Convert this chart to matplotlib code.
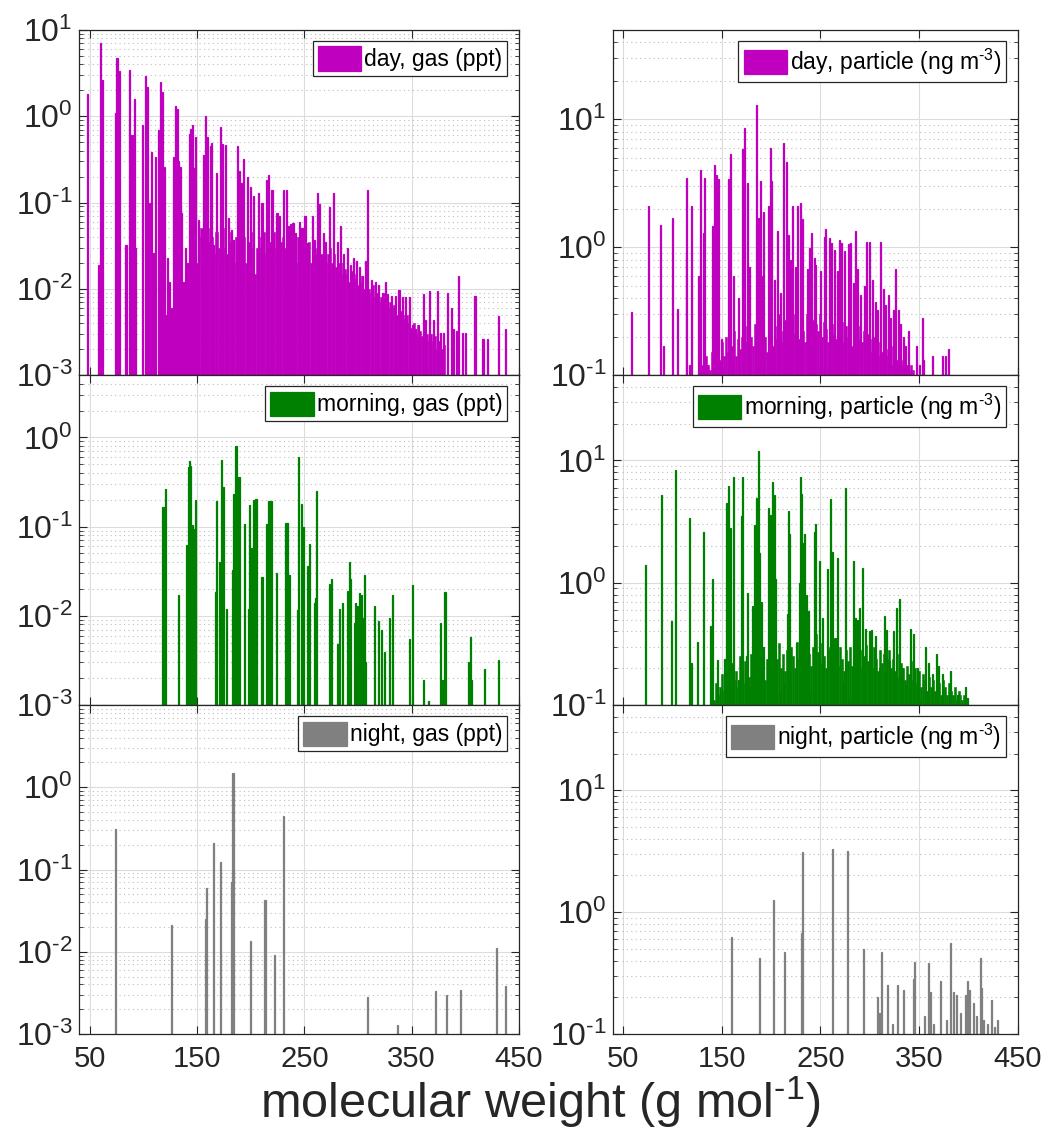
import matplotlib
matplotlib.use('Agg')
import matplotlib.pyplot as plt
from matplotlib.ticker import LogLocator, NullFormatter, FixedLocator, FuncFormatter
import math

plt.rcParams['font.family'] = ['Liberation Sans', 'DejaVu Sans']
plt.rcParams['mathtext.fontset'] = 'custom'
plt.rcParams['mathtext.rm'] = 'Liberation Sans'
plt.rcParams['mathtext.it'] = 'Liberation Sans:italic'
plt.rcParams['mathtext.bf'] = 'Liberation Sans:bold'
plt.rcParams['axes.unicode_minus'] = False

# ---- day, gas (ppt) ----
day_gas_mw = [47.5, 57.8, 59.6, 61.9, 73.4, 75.2, 77.1, 83.6, 87.1, 89.2, 91.8, 92.7, 99.2, 101.7,
              103.9, 106, 107, 108, 109.2, 111, 113.9, 115.7, 118, 119.5, 121, 122.6, 124.5, 126.3,
              127.9, 129, 130.1, 131.6, 132.9, 134.1, 135.7, 137.5, 139.3, 140.8, 142.5, 144.1,
              145.3, 146.5, 147.5, 148.8, 151.2, 155.9, 157.8, 160, 162.2, 163.7, 165.2, 168.4,
              172.1, 174, 176.2, 179.3, 181.8, 184, 187.4, 189.6, 191.1, 193.3, 197, 199.5, 202.6,
              207.3, 210.5, 214.5, 216.6, 219.8, 224.5, 226.9, 230.7, 233.2, 235.3, 236.9, 238.5,
              239.4, 241.6, 245.6, 247.8, 250.6, 253, 257.2, 259.6, 262.4, 264.3, 267.5, 269.6,
              273.6, 277.4, 280.6, 283.6, 286.7, 289.9, 293, 296.1, 298.6, 301.7, 303.9, 307,
              309.2, 312.3, 316.4, 319.5, 322.6, 325.7, 328, 331.3, 335, 338.3, 341.3, 344.4,
              348.4, 350.6, 353.7, 356.8, 360.9, 363.1, 367.1, 370.8, 374.6, 377.1, 380.2, 383.4,
              387.1, 389.5, 391.8, 394.2, 397.4, 400.5, 409.2, 416.7, 421.3, 431.1, 437.9]
day_gas_val = [1.8, 0.019, 7.0, 2.6, 1.08, 4.7, 3.35, 0.032, 3.4, 0.61, 1.6, 0.03, 0.8, 2.9,
               2.2, 0.1, 0.39, 0.012, 0.026, 0.34, 0.69, 2.5, 1.9, 0.26, 0.005, 0.023, 0.012, 0.006,
               0.34, 0.018, 1.3, 1.2, 0.3, 0.26, 0.076, 0.012, 0.03, 0.02, 0.63, 0.72,
               0.79, 0.25, 0.015, 0.57, 0.063, 0.36, 1.0, 0.57, 0.45, 0.49, 0.032, 0.22,
               0.76, 0.48, 0.46, 0.066, 0.048, 0.037, 0.45, 0.23, 0.17, 0.32, 0.2, 0.15, 0.12,
               0.13, 0.1, 0.18, 0.21, 0.14, 0.076, 0.07, 0.14, 0.14, 0.053, 0.056, 0.044,
               0.058, 0.044, 0.06, 0.05, 0.07, 0.034, 0.07, 0.037, 0.13, 0.095, 0.044, 0.035,
               0.089, 0.13, 0.035, 0.053, 0.025, 0.03, 0.019, 0.023, 0.021, 0.018, 0.014, 0.021,
               0.14, 0.0126, 0.012, 0.011, 0.0089, 0.012, 0.0087, 0.0083, 0.0083, 0.0098, 0.008, 0.008,
               0.008, 0.0038, 0.0034, 0.0038, 0.0087, 0.0044, 0.0093, 0.0044, 0.0093, 0.0031, 0.0031, 0.0089,
               0.006, 0.0034, 0.0032, 0.014, 0.0031, 0.0031, 0.0083, 0.0026, 0.0026, 0.0048, 0.0034]
# many small compounds filling the 150-380 range (2 g/mol bins)
day_gas_fill_mw = list(range(150, 382, 2))
day_gas_fill_val = [0.02, 0.04, 0.05, 0.03, 0.045, 0.05, 0.035, 0.04, 0.025, 0.045,
                    0.03, 0.04, 0.05, 0.03, 0.025, 0.045, 0.035, 0.02, 0.04, 0.03,
                    0.045, 0.03, 0.04, 0.02, 0.035, 0.045, 0.03, 0.015, 0.03, 0.04,
                    0.03, 0.045, 0.025, 0.04, 0.035, 0.02, 0.045, 0.03, 0.04, 0.035,
                    0.04, 0.03, 0.025, 0.04, 0.035, 0.03, 0.02, 0.04, 0.035, 0.03,
                    0.03, 0.025, 0.035, 0.02, 0.03, 0.025, 0.03, 0.02, 0.025, 0.03,
                    0.02, 0.025, 0.03, 0.02, 0.025, 0.018, 0.02, 0.015, 0.02, 0.017,
                    0.015, 0.012, 0.016, 0.013, 0.015, 0.011, 0.012, 0.014, 0.01, 0.012,
                    0.01, 0.009, 0.011, 0.008, 0.009, 0.007, 0.008, 0.009, 0.007, 0.006,
                    0.007, 0.006, 0.0065, 0.005, 0.006, 0.0055, 0.005, 0.0045, 0.005, 0.004,
                    0.0035, 0.004, 0.003, 0.0038, 0.0032, 0.0028, 0.0035, 0.003, 0.0025, 0.003,
                    0.0025, 0.0028, 0.002, 0.0025, 0.002, 0.0022]

# ---- day, particle (ng m-3) ----
day_part_mw = [58.6, 75.8, 87.5, 90.9, 100.3, 105, 113.7, 114.7, 117.2, 119.5, 126.3, 128.9, 131,
               132, 135.4, 141, 143, 144.4, 147.1, 149.8, 157.2, 158.9, 161.6, 167, 171, 173, 176.4,
               178.1, 185.2, 187.6, 189, 190.6, 192.5, 197.3, 199.3, 200.6, 203.3, 206.7, 209.7,
               212.4, 215.2, 217.2, 219.5, 221.2, 225, 226.9, 229.3, 231.9, 237, 239.4, 241.4,
               243.7, 244.7, 250.5, 253.8, 255.5, 258.9, 261.6, 263.9, 267.2, 269.7, 271.7, 274,
               278.4, 280.8, 283.1, 285.2, 287.5, 290.9, 294.2, 296.9, 299.3, 302.6, 305.4, 307.7,
               311.4, 313.7, 316.2, 318.8, 321.2, 323.9, 326.3, 328.9, 331.3, 334.7, 336.4, 339.1,
               347.5, 350.5, 353.1, 354.9, 363.2, 373.3, 376.7, 379.4]
day_part_val = [0.31, 2.1, 1.5, 0.17, 1.7, 0.33, 0.88, 3.5, 0.12, 2.1, 0.6, 4.0, 1.3,
                3.5, 0.12, 1.47, 4.4, 3.7, 3.4, 0.19, 3.4, 5.4, 0.6, 0.4, 5.9, 8.5, 3.2,
                0.7, 12.9, 1.7, 3.3, 0.6, 1.9, 2.1, 6.0, 3.3, 0.55, 1.35, 0.44,
                6.5, 4.6, 1.25, 0.8, 2.1, 0.7, 2.1, 2.2, 1.65, 0.68, 0.98, 1.3,
                0.82, 0.72, 0.65, 1.2, 1.38, 1.17, 1.07, 0.95, 0.65, 1.14, 1.07, 0.93,
                1.05, 1.07, 0.52, 1.35, 0.68, 0.42, 0.5, 1.1, 1.1, 0.55, 0.37, 0.32,
                1.1, 0.47, 0.35, 0.42, 0.28, 0.32, 0.67, 0.32, 0.25, 0.2, 0.17, 0.22,
                0.17, 0.12, 0.28, 0.13, 0.14, 0.14, 0.14, 0.16]
day_part_fill_mw = list(range(130, 346, 2))
day_part_fill_val = [0.12, 0.11, 0.14, 0.12, 0.11, 0.15, 0.13, 0.12, 0.16, 0.13,
                     0.18, 0.14, 0.2, 0.15, 0.12, 0.17, 0.22, 0.14, 0.19, 0.16,
                     0.2, 0.15, 0.24, 0.18, 0.14, 0.2, 0.17, 0.25, 0.16, 0.21,
                     0.18, 0.26, 0.2, 0.15, 0.22, 0.28, 0.17, 0.24, 0.19, 0.3,
                     0.22, 0.18, 0.27, 0.2, 0.25, 0.16, 0.3, 0.21, 0.26, 0.19,
                     0.28, 0.22, 0.18, 0.3, 0.24, 0.2, 0.27, 0.17, 0.25, 0.22,
                     0.3, 0.2, 0.26, 0.23, 0.18, 0.28, 0.21, 0.25, 0.19, 0.27,
                     0.22, 0.26, 0.18, 0.24, 0.2, 0.28, 0.17, 0.23, 0.21, 0.19,
                     0.24, 0.18, 0.22, 0.16, 0.21, 0.19, 0.15, 0.2, 0.17, 0.14,
                     0.18, 0.15, 0.2, 0.14, 0.16, 0.13, 0.17, 0.12, 0.15, 0.13,
                     0.14, 0.12, 0.13, 0.11, 0.12, 0.11, 0.12, 0.11]

# ---- morning, gas (ppt) ----
morn_gas_mw = [118, 119.2, 120.4, 132.2, 140.4, 141.6, 142.8, 144.1, 145.3, 146.5, 148.8, 166.8,
               167.8, 170.9, 173.1, 174.6, 177.1, 183, 184.3, 186.2, 187.4, 189, 193.9, 198, 198.6,
               200.5, 202.6, 204.9, 210.5, 215.1, 217, 219.2, 223.8, 232.9, 234.1, 235.7, 243.2,
               244.7, 246.9, 248.8, 252.5, 254.7, 259.3, 260.3, 261.2, 273.7, 275.2, 281.1, 283,
               285.2, 289.9, 291.1, 292.1, 293, 296.7, 297.7, 299.2, 301.7, 303.3, 304.9, 306.4,
               307.3, 315.1, 319.5, 321.7, 325.1, 329.7, 332, 348.4, 350.6, 361.5, 365.9, 377.1,
               379.3, 381.2, 402.8, 404.1, 405, 405.9, 418, 431.1]
morn_gas_val = [0.165, 0.165, 0.265, 0.017, 0.062, 0.47, 0.55, 0.48, 0.103, 0.095, 0.196, 0.0185,
                0.195, 0.04, 0.56, 0.276, 0.012, 0.033, 0.23, 0.79, 0.025, 0.36, 0.108, 0.012, 0.175,
                0.058, 0.2, 0.205, 0.027, 0.108, 0.195, 0.195, 0.03, 0.11, 0.11, 0.029, 0.0115,
                0.61, 0.18, 0.1, 0.036, 0.063, 0.014, 0.016, 0.25, 0.023, 0.026, 0.0048, 0.012,
                0.014, 0.019, 0.017, 0.04, 0.026, 0.0083, 0.014, 0.013, 0.018, 0.017, 0.0095, 0.029,
                0.003, 0.013, 0.0087, 0.007, 0.0039, 0.0095, 0.017, 0.0055, 0.022, 0.0019, 0.0011, 0.0083,
                0.0019, 0.0185, 0.003, 0.0026, 0.0058, 0.0019, 0.0025, 0.0032]

# ---- morning, particle (ng m-3) ----
morn_part_mw = [73, 88.9, 99.3, 103, 117.2, 118.2, 119.5, 125.6, 131.6, 138.7, 141, 145.8, 153.1,
                155.2, 156.6, 158.6, 161.6, 167.3, 170, 171.3, 174.7, 176.1, 179.4, 181.4, 182.8,
                185.2, 187.5, 188.5, 189.9, 192.2, 197, 199.6, 201, 203, 204, 208.1, 212.4, 216.2,
                217.5, 218.8, 225.6, 228.3, 229.3, 231.3, 232.6, 233.6, 236, 237, 238, 240.4, 243.7,
                245.4, 248.8, 252.1, 257.2, 259.9, 262.3, 265, 267.7, 272.3, 275.8, 279.1, 283.1,
                285.9, 287.5, 289.9, 292.6, 296, 299.3, 302.1, 306.1, 309.5, 314.5, 316.8, 319.6,
                323.6, 327, 329.8, 333.1, 337.1, 341.6, 343.9, 348.2, 351.7, 356.7, 359.4, 364.1,
                367.5, 369.5, 373.6, 382.1, 388.8, 396.6, 398.9]
morn_part_val = [1.4, 5.2, 0.49, 8.3, 3.4, 0.21, 0.22, 0.33, 2.6, 0.44, 1.08, 0.235, 0.24,
                 4.5, 6.2, 2.8, 7.3, 0.16, 3.5, 7.3, 0.25, 0.83, 0.14, 0.64, 2.95,
                 4.9, 12.0, 1.74, 0.69, 0.3, 4.1, 3.6, 6.7, 5.2, 1.08, 0.13, 0.15, 0.56,
                 3.85, 2.5, 0.32, 0.99, 7.3, 5.3, 2.1, 2.5, 0.8, 0.57, 0.59, 0.125, 2.6,
                 3.0, 1.5, 0.51, 1.3, 4.8, 1.8, 0.35, 1.58, 0.15, 6.0, 0.11, 1.5,
                 0.51, 0.5, 0.62, 1.33, 0.42, 0.4, 0.41, 0.37, 0.2, 0.53, 0.41, 0.23,
                 0.4, 0.62, 0.74, 0.2, 0.145, 0.42, 0.38, 0.2, 0.11, 0.3, 0.22, 0.18,
                 0.26, 0.21, 0.18, 0.19, 0.12, 0.14, 0.115]
morn_part_fill_mw = list(range(140, 400, 2))
morn_part_fill_val = [0.13, 0.11, 0.15, 0.12, 0.14, 0.18, 0.13, 0.2, 0.15, 0.12,
                      0.22, 0.16, 0.19, 0.14, 0.25, 0.18, 0.15, 0.23, 0.2, 0.17,
                      0.26, 0.19, 0.3, 0.17, 0.22, 0.28, 0.2, 0.16, 0.24, 0.3,
                      0.21, 0.27, 0.18, 0.24, 0.32, 0.2, 0.26, 0.19, 0.28, 0.22,
                      0.3, 0.25, 0.2, 0.33, 0.24, 0.19, 0.28, 0.22, 0.35, 0.26,
                      0.21, 0.3, 0.24, 0.38, 0.27, 0.22, 0.32, 0.25, 0.2, 0.3,
                      0.28, 0.22, 0.35, 0.26, 0.21, 0.3, 0.24, 0.19, 0.28, 0.23,
                      0.3, 0.21, 0.26, 0.33, 0.22, 0.28, 0.2, 0.25, 0.31, 0.23,
                      0.27, 0.2, 0.3, 0.24, 0.19, 0.28, 0.22, 0.26, 0.18, 0.24,
                      0.28, 0.2, 0.24, 0.19, 0.26, 0.17, 0.22, 0.2, 0.16, 0.21,
                      0.18, 0.23, 0.16, 0.2, 0.15, 0.19, 0.14, 0.18, 0.16, 0.13,
                      0.17, 0.14, 0.16, 0.13, 0.18, 0.15, 0.12, 0.16, 0.14, 0.12,
                      0.15, 0.13, 0.12, 0.14, 0.11, 0.13, 0.12, 0.11, 0.12, 0.11]

# ---- night, gas (ppt) ----
night_gas_mw = [73.4, 125.7, 158.1, 159, 165.6, 172.1, 182.1, 183.4, 199.8, 213.3, 222, 230.7,
                308.6, 337.2, 372.1, 382.7, 395.8, 429.4, 438.1]
night_gas_val = [0.31, 0.021, 0.025, 0.06, 0.21, 0.123, 0.07, 1.5, 0.0135, 0.042, 0.0091, 0.45,
                 0.0028, 0.0013, 0.0033, 0.003, 0.0034, 0.011, 0.0038]

# ---- night, particle (ng m-3) ----
night_part_mw = [160.2, 188.2, 202, 213.7, 231.3, 232.3, 262.2, 277.8, 293.9, 308, 309.5, 311.7,
                 317.8, 323, 328.3, 334, 344.1, 345.8, 356, 359.9, 361.6, 365, 372, 378, 382.1,
                 385.1, 387.5, 392, 397, 399.6, 401.3, 405, 408, 412.1, 413.7, 415.5, 419, 423.5,
                 426, 429.5]
night_part_val = [0.62, 0.42, 1.25, 0.47, 0.68, 3.1, 3.3, 3.15, 0.5, 0.2, 0.15, 0.475,
                  0.25, 0.12, 0.25, 0.23, 0.28, 0.39, 0.14, 0.38, 0.22, 0.12, 0.27, 0.13, 0.56,
                  0.22, 0.21, 0.15, 0.21, 0.27, 0.23, 0.18, 0.14, 0.42, 0.24, 0.13, 0.12, 0.19,
                  0.115, 0.13]

magenta = '#bf00bf'
green = '#008000'
gray = '#808080'

fig = plt.figure(figsize=(10.47, 11.39), dpi=100)
W, H = 1047.0, 1139.0


def pow10(v, pos):
    e = int(round(math.log10(v)))
    if e < 0:
        return r'$10^{\text{-}%d}$' % (-e)
    return r'$10^{%d}$' % e


def panel(x0, x1, y0, y1, mw, val, fill_mw, fill_val, color, label, ylim, yticks, bottom_row):
    ax = fig.add_axes([x0 / W, 1 - y1 / H, (x1 - x0) / W, (y1 - y0) / H])
    ax.set_yscale('log')
    if fill_mw is not None:
        ax.bar(fill_mw, fill_val, width=2.0, color=color, edgecolor=color, linewidth=0.4)
    ax.bar(mw, val, width=1.0, color=color, edgecolor=color, linewidth=0.9, label=label)
    ax.set_xlim(40, 450)
    ax.set_ylim(*ylim)
    ax.set_xticks([50, 150, 250, 350, 450])
    ax.yaxis.set_major_locator(FixedLocator(yticks))
    ax.yaxis.set_major_formatter(FuncFormatter(pow10))
    ax.yaxis.set_minor_locator(LogLocator(base=10, subs=range(2, 10), numticks=20))
    ax.yaxis.set_minor_formatter(NullFormatter())
    ax.set_axisbelow(True)
    ax.grid(True, which='major', color='#dcdcdc', linewidth=0.8)
    ax.grid(True, which='minor', axis='y', color='#bdbdbd', linestyle=(0, (1, 3)), linewidth=0.8)
    ax.tick_params(which='both', direction='in', top=True, right=True, colors='#262626')
    ax.tick_params(which='major', length=6, width=0.8, labelsize=23, pad=5)
    ax.tick_params(which='minor', length=3, width=0.6)
    ax.tick_params(axis='x', labelsize=21, pad=8)
    if not bottom_row:
        ax.tick_params(axis='x', labelbottom=False)
    for s in ax.spines.values():
        s.set_color('#262626')
        s.set_linewidth(0.9)
    leg = ax.legend(loc='upper right', fontsize=16.5, handlelength=1.9, handleheight=1.25,
                    handletextpad=0.12, borderpad=0.22, borderaxespad=0.5,
                    fancybox=False, framealpha=1)
    leg.get_frame().set_edgecolor('#262626')
    leg.get_frame().set_linewidth(0.9)
    return ax


lx0, lx1 = 79.3, 518.7
rx0, rx1 = 613.3, 1017.7
rows = [(30, 375), (375, 705), (705, 1034)]

panel(lx0, lx1, rows[0][0], rows[0][1], day_gas_mw, day_gas_val, day_gas_fill_mw, day_gas_fill_val,
      magenta, 'day, gas (ppt)', (1e-3, 10), [1e-3, 1e-2, 1e-1, 1e0, 1e1], False)
panel(lx0, lx1, rows[1][0], rows[1][1], morn_gas_mw, morn_gas_val, None, None,
      green, 'morning, gas (ppt)', (1e-3, 5), [1e-3, 1e-2, 1e-1, 1e0], False)
panel(lx0, lx1, rows[2][0], rows[2][1], night_gas_mw, night_gas_val, None, None,
      gray, 'night, gas (ppt)', (1e-3, 10), [1e-3, 1e-2, 1e-1, 1e0], True)

panel(rx0, rx1, rows[0][0], rows[0][1], day_part_mw, day_part_val, day_part_fill_mw, day_part_fill_val,
      magenta, r'day, particle (ng m$^{\text{-}3}$)', (0.1, 50), [0.1, 1, 10], False)
panel(rx0, rx1, rows[1][0], rows[1][1], morn_part_mw, morn_part_val, morn_part_fill_mw, morn_part_fill_val,
      green, r'morning, particle (ng m$^{\text{-}3}$)', (0.1, 50), [0.1, 1, 10], False)
panel(rx0, rx1, rows[2][0], rows[2][1], night_part_mw, night_part_val, None, None,
      gray, r'night, particle (ng m$^{\text{-}3}$)', (0.1, 50), [0.1, 1, 10], True)

fig.text(540 / W, 1 - 1102 / H, r'molecular weight (g mol$^{\text{-}1}$)', ha='center', va='center',
         fontsize=35, color='#262626')

fig.savefig('out.png', dpi=100)
